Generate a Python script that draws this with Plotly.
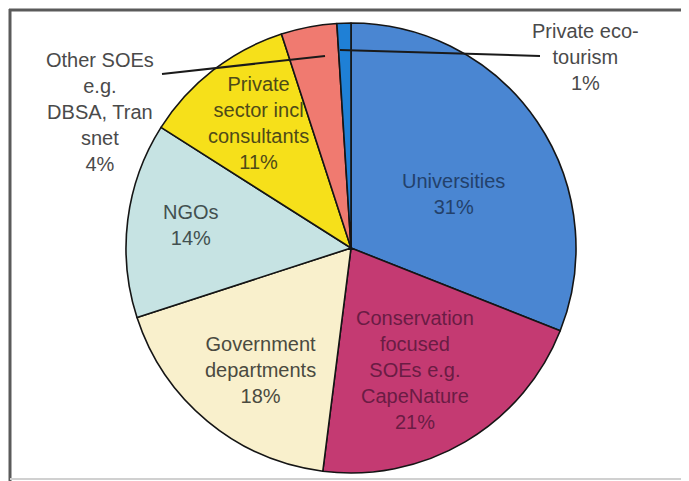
import plotly.graph_objects as go

# slices, clockwise from 12 o'clock
labels = [
    "Universities",
    "Conservation focused SOEs e.g. CapeNature",
    "Government departments",
    "NGOs",
    "Private sector incl consultants",
    "Other SOEs e.g. DBSA, Transnet",
    "Private eco-tourism",
]
shares = [31, 21, 18, 14, 11, 4, 1]
label_text = [
    "Universities",
    "Conservation<br>focused<br>SOEs e.g.<br>CapeNature",
    "Government<br>departments",
    "NGOs",
    "Private<br>sector incl<br>consultants",
    "Other SOEs<br>e.g.<br>DBSA, Tran<br>snet",
    "Private eco-<br>tourism",
]
colors = ["#4a86d2", "#c43a72", "#f9f0cc", "#c6e3e3", "#f6e01a", "#f07a70", "#1f80d6"]
text_colors = ["#23416b", "#6a1c44", "#4a4a40", "#42504f", "#4e4a18", "#4a4a4a", "#4a4a4a"]

W, H = 689, 481
OFF = 8  # page body margin

# label centres in page pixels (x, y from top)
label_pos = [(453, 194), (415, 370), (260, 370), (191, 225), (258, 123), (100, 112), (585, 57)]


def px(x, y):
    return (x - OFF) / W, 1 - (y - OFF) / H


fig = go.Figure()
fig.add_trace(go.Pie(
    labels=labels,
    values=shares,
    sort=False,
    direction="clockwise",
    rotation=0,
    marker=dict(colors=colors, line=dict(color="#151515", width=1.6)),
    textinfo="none",
    showlegend=False,
    domain=dict(x=[px(126, 0)[0], px(576, 0)[0]], y=[px(0, 473)[1], px(0, 23)[1]]),
))

for name, val, tc, (x, y) in zip(label_text, shares, text_colors, label_pos):
    ax, ay = px(x, y)
    fig.add_annotation(
        x=ax, y=ay, xref="paper", yref="paper",
        text=f"{name}<br>{val}%",
        showarrow=False, xanchor="center", yanchor="middle",
        font=dict(family="Liberation Sans, Arial, sans-serif", size=20, color=tc),
    )

# leader lines for the two thin slices
leaders = [((162, 74), (325, 56)), ((340, 50), (540, 56))]
for (x0, y0), (x1, y1) in leaders:
    a0, b0 = px(x0, y0)
    a1, b1 = px(x1, y1)
    fig.add_shape(type="line", xref="paper", yref="paper", x0=a0, y0=b0, x1=a1, y1=b1,
                  line=dict(color="#1a1a1a", width=2))

# picture frame
fx, fy = px(9, 10)
fig.add_shape(type="line", xref="paper", yref="paper", x0=fx, y0=fy, x1=1, y1=fy,
              line=dict(color="#5a5a5a", width=3))
fx, fy = px(10, 9)
fig.add_shape(type="line", xref="paper", yref="paper", x0=fx, y0=fy, x1=fx, y1=0,
              line=dict(color="#5a5a5a", width=3))
fx, fy = px(10, 479)
fig.add_shape(type="line", xref="paper", yref="paper", x0=fx, y0=fy, x1=1, y1=fy,
              line=dict(color="#d0d0d0", width=2))

fig.update_layout(
    width=W, height=H,
    margin=dict(l=0, r=0, t=0, b=0),
    paper_bgcolor="white",
    plot_bgcolor="white",
)

fig.write_html("out.html")
